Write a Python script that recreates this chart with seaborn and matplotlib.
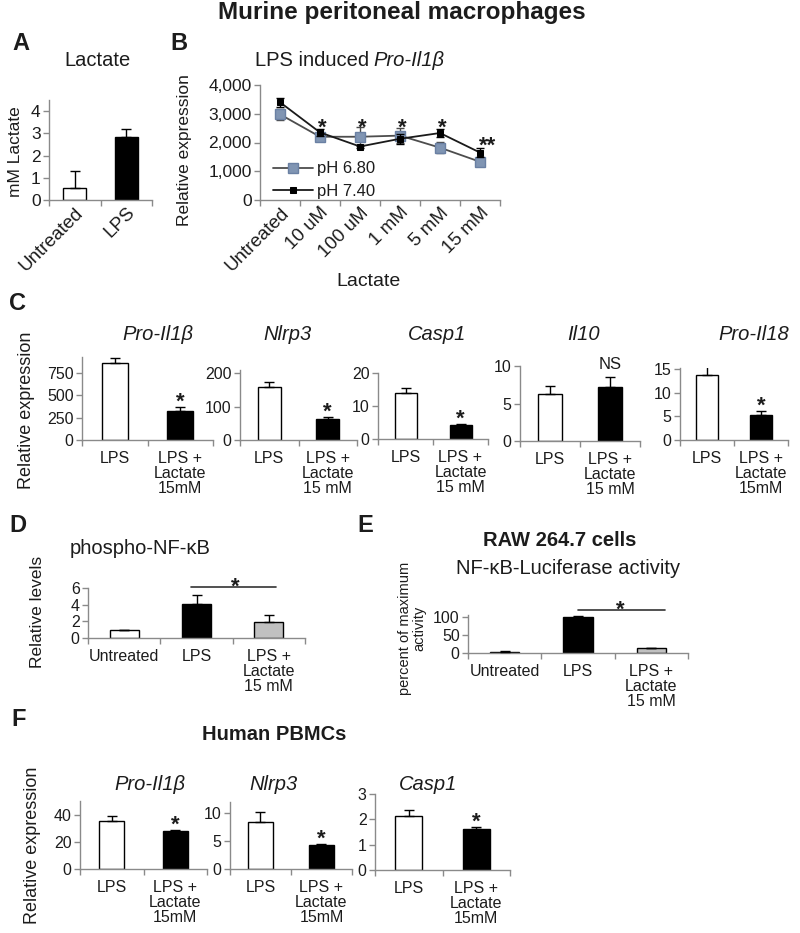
import numpy as np
import pandas as pd
import matplotlib
matplotlib.use("Agg")
import matplotlib.pyplot as plt
from matplotlib.ticker import FuncFormatter
import seaborn as sns

# ---------------- data ----------------
a_cats = ["Untreated", "LPS"]
a_vals = [0.55, 2.85]
a_errs = [0.75, 0.35]

b_cats = ["Untreated", "10 uM", "100 uM", "1 mM", "5 mM", "15 mM"]
b_ph680 = [2980, 2200, 2200, 2240, 1820, 1330]
b_ph680_err = [200, 80, 330, 270, 200, 70]
b_ph740 = [3400, 2350, 1860, 2130, 2330, 1650]
b_ph740_err = [150, 120, 50, 170, 150, 170]
b_sig = ["", "*", "*", "*", "*", "**"]

c_genes = ["Pro-Il1β", "Nlrp3", "Casp1", "Il10", "Pro-Il18"]
c_cats = [["LPS", "LPS +\nLactate\n15mM"],
          ["LPS", "LPS +\nLactate\n15 mM"],
          ["LPS", "LPS +\nLactate\n15 mM"],
          ["LPS", "LPS +\nLactate\n15 mM"],
          ["LPS", "LPS +\nLactate\n15mM"]]
c_vals = [[860, 330], [160, 62], [14.0, 4.3], [6.3, 7.2], [13.8, 5.3]]
c_errs = [[60, 40], [14, 7], [1.6, 0.3], [1.0, 1.3], [2.1, 0.8]]
c_sig = ["*", "*", "*", "NS", "*"]

d_cats = ["Untreated", "LPS", "LPS +\nLactate\n15 mM"]
d_vals = [1.0, 4.1, 1.9]
d_errs = [0.0, 1.1, 0.9]

e_cats = ["Untreated", "LPS", "LPS +\nLactate\n15 mM"]
e_vals = [2.0, 100.0, 15.0]
e_errs = [4.0, 2.0, 0.0]

f_genes = ["Pro-Il1β", "Nlrp3", "Casp1"]
f_cats = ["LPS", "LPS +\nLactate\n15mM"]
f_vals = [[35.5, 28.0], [8.4, 4.3], [2.15, 1.6]]
f_errs = [[3.5, 0.8], [1.8, 0.2], [0.2, 0.1]]
f_sig = ["*", "*", "*"]

# ---------------- style ----------------
sns.set_theme(style="ticks")
plt.rcParams["font.family"] = ["Liberation Sans", "DejaVu Sans"]
TXT = "#1c1c1c"
AXC = "#8a8a8a"
TICK_FS = 11.5
ROT_FS = 13.5
TITLE_FS = 14.5
YLAB_FS = 12.5
STAR_FS = 16

W, H = 800, 933
fig = plt.figure(figsize=(8, 9.33), dpi=100)


def box(x0, yt, x1, yb):
    return fig.add_axes([x0 / W, 1 - yb / H, (x1 - x0) / W, (yb - yt) / H])


def ftext(x, y, s, **kw):
    kw.setdefault("color", TXT)
    kw.setdefault("ha", "center")
    kw.setdefault("va", "center")
    return fig.text(x / W, 1 - y / H, s, **kw)


def style(ax, n, ylim, yticks, fs=TICK_FS):
    ax.set_xlim(-0.5, n - 0.5)
    ax.set_ylim(*ylim)
    ax.set_yticks(yticks)
    for s in ["top", "right"]:
        ax.spines[s].set_visible(False)
    for s in ["left", "bottom"]:
        ax.spines[s].set_color(AXC)
        ax.spines[s].set_linewidth(1.0)
    ax.set_xticks(np.arange(-0.5, n), minor=True)
    ax.tick_params(axis="x", which="major", length=0, pad=8,
                   labelsize=fs, labelcolor=TXT)
    ax.tick_params(axis="x", which="minor", length=4, width=1,
                   color=AXC, direction="out", bottom=True)
    ax.tick_params(axis="y", which="major", length=4, width=1, color=AXC,
                   direction="out", left=True, labelsize=fs,
                   labelcolor=TXT, pad=2)
    ax.tick_params(axis="y", which="minor", left=False)
    ax.set_xlabel("")
    ax.set_ylabel("")
    ax.patch.set_alpha(0)
    for lab in ax.get_xticklabels():
        lab.set_linespacing(1.0)


def star(ax, x, ytop, s, gap_px=12, fs=STAR_FS, bold=True):
    # place symbol so that its visual centre is gap_px above ytop
    off_px = gap_px - (0.58 * fs * 100 / 72 if s.startswith("*") else 0.36 * fs * 100 / 72)
    ax.annotate(s, (x, ytop), xytext=(0, off_px * 72 / 100),
                textcoords="offset points", ha="center", va="baseline",
                fontsize=fs, fontweight="bold" if bold else "normal",
                color=TXT, annotation_clip=False)


def bar_panel(rect, cats, vals, errs, colors, ylim, yticks, width=0.4,
              fs=TICK_FS):
    ax = box(*rect)
    df = pd.DataFrame({"cat": cats, "val": vals})
    sns.barplot(data=df, x="cat", y="val", hue="cat", order=cats,
                hue_order=cats, palette=dict(zip(cats, colors)),
                edgecolor="black", linewidth=1.0, width=width,
                errorbar=None, legend=False, ax=ax, saturation=1)
    x = np.arange(len(cats))
    ax.errorbar(x, vals, yerr=[np.zeros(len(vals)), errs], fmt="none",
                ecolor="black", elinewidth=1.0, capsize=3.5, capthick=1.0,
                zorder=3)
    style(ax, len(cats), ylim, yticks, fs=fs)
    return ax


def rotate_labels(ax):
    for lab in ax.get_xticklabels():
        lab.set_rotation(45)
        lab.set_ha("right")
        lab.set_rotation_mode("anchor")
    ax.tick_params(axis="x", which="major", pad=3, labelsize=ROT_FS)


# ---------------- headers ----------------
ftext(402, 13, "Murine peritoneal macrophages", fontsize=17.5, fontweight="bold")
ftext(21, 44, "A", fontsize=17, fontweight="bold")
ftext(179, 44, "B", fontsize=17, fontweight="bold")
ftext(18, 303, "C", fontsize=17, fontweight="bold")
ftext(18, 525, "D", fontsize=17, fontweight="bold")
ftext(365, 525, "E", fontsize=17, fontweight="bold")
ftext(19, 720, "F", fontsize=17, fontweight="bold")

# ---------------- Panel A ----------------
axA = bar_panel((49, 100, 152, 200), a_cats, a_vals, a_errs,
                ["white", "black"], (0, 4.5), [0, 1, 2, 3, 4], width=0.45,
                fs=12.5)
rotate_labels(axA)
ftext(97, 60, "Lactate", fontsize=TITLE_FS)
ftext(16, 152, "mM Lactate", fontsize=YLAB_FS, rotation=90)

# ---------------- Panel B ----------------
axB = box(260, 85, 500, 200)
xb = np.arange(len(b_cats))
df680 = pd.DataFrame({"x": xb, "y": b_ph680})
df740 = pd.DataFrame({"x": xb, "y": b_ph740})
axB.errorbar(xb, b_ph680, yerr=b_ph680_err, fmt="none", ecolor="#4a4a4a",
             elinewidth=1.0, capsize=3, capthick=1.0, zorder=2)
sns.lineplot(data=df680, x="x", y="y", ax=axB, color="#4d4d4d", lw=1.3,
             marker="s", markersize=7.5, markerfacecolor="#8095b3",
             markeredgecolor="#6a80a3", markeredgewidth=1.0,
             label="pH 6.80", zorder=3)
axB.errorbar(xb, b_ph740, yerr=b_ph740_err, fmt="none", ecolor="black",
             elinewidth=1.0, capsize=3, capthick=1.0, zorder=4)
sns.lineplot(data=df740, x="x", y="y", ax=axB, color="#1a1a1a", lw=1.3,
             marker="s", markersize=4, markerfacecolor="black",
             markeredgecolor="black", label="pH 7.40", zorder=5)
style(axB, len(b_cats), (0, 4000), [0, 1000, 2000, 3000, 4000], fs=12.5)
axB.set_xticks(xb)
axB.set_xticklabels(b_cats)
rotate_labels(axB)
axB.yaxis.set_major_formatter(FuncFormatter(lambda v, p: f"{int(v):,}"))
axB.legend(frameon=False, loc="lower left", bbox_to_anchor=(0.055, 0.01),
           fontsize=12, handlelength=2.4, labelspacing=0.45,
           borderaxespad=0, borderpad=0, handletextpad=0.2,
           labelcolor=TXT)
for i, s in enumerate(b_sig):
    if not s:
        continue
    if s == "**":
        star(axB, i + 0.18, max(b_ph680[i], b_ph740[i]) + 200, s, gap_px=8)
    else:
        star(axB, i + 0.05, 2740, s, gap_px=0)
renderer = fig.canvas.get_renderer()
t1 = ftext(255, 60, "LPS induced", fontsize=TITLE_FS, ha="left")
bb = t1.get_window_extent(renderer=renderer)
fig.text((bb.x1 + 4) / W, 1 - 60 / H, "Pro-Il1β", fontsize=TITLE_FS,
         style="italic", ha="left", va="center", color=TXT)
ftext(368, 282, "Lactate", fontsize=14)
ftext(184, 150, "Relative expression", fontsize=YLAB_FS, rotation=90)

# ---------------- Panel C ----------------
c_rects = [(82, 357, 213, 440), (240, 370, 357, 440), (378, 373, 488, 439),
           (520, 366, 640, 441), (680, 368, 788, 440)]
c_ylims = [(0, 930), (0, 210), (0, 20), (0, 10), (0, 15.3)]
c_yticks = [[0, 250, 500, 750], [0, 100, 200], [0, 10, 20], [0, 5, 10],
            [0, 5, 10, 15]]
c_title_x = [158, 288, 437, 584, 754]
for k in range(5):
    ax = bar_panel(c_rects[k], c_cats[k], c_vals[k], c_errs[k],
                   ["white", "black"], c_ylims[k], c_yticks[k])
    s = c_sig[k]
    ytop = c_vals[k][1] + c_errs[k][1]
    if s == "NS":
        star(ax, 1, ytop, s, gap_px=14, fs=TICK_FS + 0.5, bold=False)
    else:
        star(ax, 1, ytop, s, gap_px=12)
    ftext(c_title_x[k], 335, c_genes[k], fontsize=TITLE_FS, style="italic")
ftext(27, 410, "Relative expression", fontsize=YLAB_FS + 0.5, rotation=90)

# ---------------- Panel D ----------------
axD = bar_panel((88, 588, 305, 638), d_cats, d_vals, d_errs,
                ["white", "black", "#c0c0c0"], (0, 6), [0, 2, 4, 6])
axD.plot([0.92, 2.1], [6.1, 6.1], color="#333333", lw=1.2, clip_on=False)
star(axD, 1.53, 6.1, "*", gap_px=7)
ftext(140, 548, "phospho-NF-κB", fontsize=TITLE_FS)
ftext(38, 612, "Relative levels", fontsize=YLAB_FS, rotation=90)

# ---------------- Panel E ----------------
axE = bar_panel((468, 615, 688, 653), e_cats, e_vals, e_errs,
                ["white", "black", "#c0c0c0"], (0, 105), [0, 50, 100])
axE.plot([1.0, 2.19], [119, 119], color="#333333", lw=1.2, clip_on=False)
star(axE, 1.58, 119, "*", gap_px=7)
ftext(560, 540, "RAW 264.7 cells", fontsize=14.5, fontweight="bold")
ftext(568, 568, "NF-κB-Luciferase activity", fontsize=TITLE_FS)
ftext(412, 628, "percent of maximum\nactivity", fontsize=10.5, rotation=90,
      linespacing=1.0)

# ---------------- Panel F ----------------
f_rects = [(80, 801, 207, 869), (230, 802, 352, 869), (375, 794, 510, 870)]
f_ylims = [(0, 50), (0, 12), (0, 3)]
f_yticks = [[0, 20, 40], [0, 5, 10], [0, 1, 2, 3]]
f_title_x = [150, 274, 428]
ftext(274, 735, "Human PBMCs", fontsize=14.5, fontweight="bold")
for k in range(3):
    ax = bar_panel(f_rects[k], f_cats, f_vals[k], f_errs[k],
                   ["white", "black"], f_ylims[k], f_yticks[k])
    star(ax, 1, f_vals[k][1] + f_errs[k][1], f_sig[k], gap_px=12)
    ftext(f_title_x[k], 785, f_genes[k], fontsize=TITLE_FS, style="italic")
ftext(33, 845, "Relative expression", fontsize=YLAB_FS + 0.5, rotation=90)

fig.savefig("out.png", dpi=100, facecolor="white")
